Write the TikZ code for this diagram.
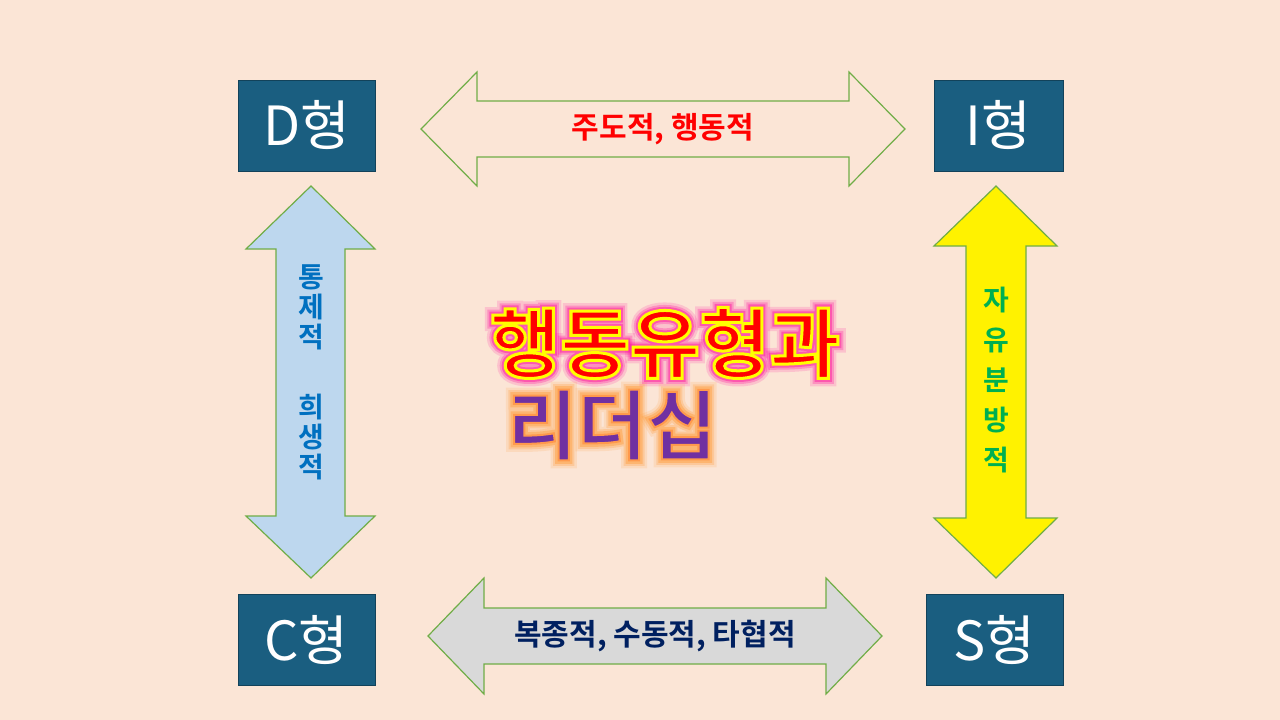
\documentclass[tikz,border=0pt]{standalone}
\usepackage{fontspec}
\setmainfont{Noto Sans CJK KR}
\newfontfamily\kb{Noto Sans CJK KR Bold}
\begin{document}
\begin{tikzpicture}[x=1pt,y=-1pt,
  box/.style={fill=boxc,draw=boxc!70!black,minimum width=#1,minimum height=91pt,inner sep=0pt,text=white,font=\fontsize{54}{54}\selectfont},
  arr/.style={draw=arrg,line width=1.2pt,line join=miter},
  lab/.style={font=\kb\fontsize{30}{30}\selectfont},
  vlab/.style={font=\kb\fontsize{28}{28}\selectfont}]
\definecolor{bg}{HTML}{FBE5D6}
\definecolor{boxc}{HTML}{1A5E80}
\definecolor{arrg}{HTML}{70AD47}
\definecolor{lblue}{HTML}{BDD7EE}
\definecolor{tblue}{HTML}{0070C0}
\definecolor{tgreen}{HTML}{00B050}
\definecolor{navy}{HTML}{002060}
\definecolor{purp}{HTML}{7030A0}
\fill[bg] (0,0) rectangle (1280,720);
\useasboundingbox (0,0) rectangle (1280,720);
\node[box=137pt] (D) at (306.5,125.5) {D형};
\node[box=129pt] (I) at (998.5,125.5) {I형};
\node[box=137pt] (C) at (306.5,639.5) {C형};
\node[box=137pt] (S) at (994.5,639.5) {S형};
% top arrow
\draw[arr,fill=bg] (421,129)--(477,72)--(477,101)--(849,101)--(849,72)--(905,129)--(849,186)--(849,157)--(477,157)--(477,186)--cycle;
\node[text=red,lab] (t1) at (663,129) {주도적, 행동적};
% bottom arrow
\draw[arr,fill=gray!30] (428,636)--(484,578)--(484,608)--(826,608)--(826,578)--(882,636)--(826,694)--(826,664)--(484,664)--(484,694)--cycle;
\node[text=navy,lab] (t2) at (655,636) {복종적, 수동적, 타협적};
% left arrow
\draw[arr,fill=lblue] (311,186)--(375,249)--(345,249)--(345,516)--(375,516)--(311,578)--(246,516)--(276,516)--(276,249)--(246,249)--cycle;
\foreach \c/\y in {통/277,제/307,적/337,희/407,생/437,적/467}
  \node[text=tblue,vlab] at (311,\y) {\c};
% right arrow
\draw[arr,fill=yellow] (996,186)--(1057,246)--(1026,246)--(1026,518)--(1057,518)--(996,578)--(934,518)--(966,518)--(966,246)--(934,246)--cycle;
\foreach \c/\y in {자/300,유/340,분/380,방/420,적/460}
  \node[text=tgreen,vlab] at (996,\y) {\c};
% centre title with glow
\foreach \w in {16,12,8}
  \node[font=\kb\fontsize{76}{76}\selectfont] at (665,343)
   {\special{pdf:literal q 2 Tr \w\space w 1 0 0.5 RG 1 0 0.5 rg /GS0 gs}\special{pdf:literal Q}};
\foreach \w/\o in {16/0.15,11/0.25,7/0.4}{
  \node[font=\kb\fontsize{76}{76}\selectfont,opacity=\o,text=magenta!70!red] at (665,343)
   {\special{pdf:literal q 1 Tr \w\space w 1 0 0.6 RG}행동유형과\special{pdf:literal Q}};
  \node[font=\kb\fontsize{76}{76}\selectfont,opacity=\o,text=orange] at (612,425)
   {\special{pdf:literal q 1 Tr \w\space w 1 0.6 0.2 RG}리더십\special{pdf:literal Q}};
}
\node[font=\kb\fontsize{76}{76}\selectfont] (title) at (665,343)
  {\special{pdf:literal q 2 Tr 3 w 1 1 0 RG 1 0 0 rg}행동유형과\special{pdf:literal Q}};
\node[font=\kb\fontsize{76}{76}\selectfont] (title2) at (612,425)
  {\special{pdf:literal q 2 Tr 2 w 1 0.6 0.3 RG 0.44 0.19 0.63 rg}리더십\special{pdf:literal Q}};
\end{tikzpicture}
\end{document}
